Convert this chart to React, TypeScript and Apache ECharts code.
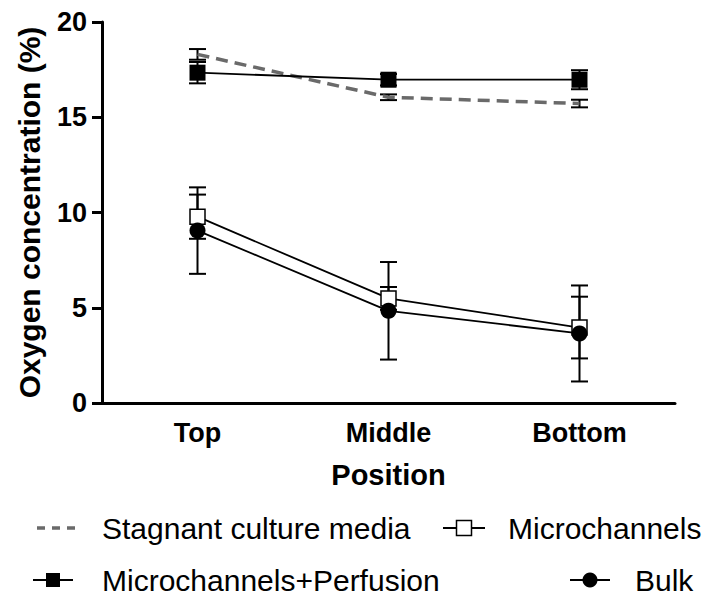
import React, { useEffect, useRef } from "react";
import * as echarts from "echarts";

const categories = ["Top", "Middle", "Bottom"];
const stagnantMean = [18.3, 16.05, 15.72];
const stagnantErr = [0.28, 0.15, 0.2];
const microMean = [9.78, 5.49, 3.96];
const microErr = [1.16, 0.6, 1.62];
const perfusionMean = [17.34, 16.97, 16.97];
const perfusionErr = [0.56, 0.3, 0.5];
const bulkMean = [9.05, 4.84, 3.65];
const bulkErr = [2.27, 2.56, 2.52];

const seriesNames = [
  "Stagnant culture media",
  "Microchannels",
  "Microchannels+Perfusion",
  "Bulk",
];

const FONT = "'Liberation Sans', Arial, Helvetica, sans-serif";

function errorSeries(name: string, mean: number[], err: number[]) {
  return {
    type: "custom",
    name: name + " SEM",
    z: 1,
    silent: true,
    data: mean.map((m, i) => [i, m - err[i], m + err[i]]),
    encode: { x: 0, y: [1, 2] },
    renderItem: (params: any, api: any) => {
      const x = api.value(0);
      const lo = api.coord([x, api.value(1)]);
      const hi = api.coord([x, api.value(2)]);
      const hw = 8.5;
      const st = { stroke: "#000", lineWidth: 2 };
      return {
        type: "group",
        children: [
          { type: "line", shape: { x1: lo[0], y1: lo[1], x2: hi[0], y2: hi[1] }, style: st },
          { type: "line", shape: { x1: lo[0] - hw, y1: lo[1], x2: lo[0] + hw, y2: lo[1] }, style: st },
          { type: "line", shape: { x1: hi[0] - hw, y1: hi[1], x2: hi[0] + hw, y2: hi[1] }, style: st },
        ],
      };
    },
  };
}

function legendGraphics() {
  const t = (x: number, y: number, text: string) => ({
    type: "text",
    x,
    y,
    style: {
      text,
      fontFamily: FONT,
      fontSize: 30,
      fill: "#000",
      verticalAlign: "middle",
      align: "left",
    },
  });
  const ln = (x1: number, x2: number, y: number) => ({
    type: "line",
    shape: { x1, y1: y, x2, y2: y },
    style: { stroke: "#000", lineWidth: 2 },
  });
  const r1 = 528;
  const r2 = 580;
  return [
    {
      type: "line",
      shape: { x1: 37, y1: r1, x2: 82, y2: r1 },
      style: { stroke: "#6a6a6a", lineWidth: 3.5, lineDash: [8, 7] },
    },
    t(102, r1, seriesNames[0]),
    ln(443, 485, r1),
    {
      type: "rect",
      shape: { x: 464 - 7.5, y: r1 - 7.5, width: 15, height: 15 },
      style: { fill: "#fff", stroke: "#000", lineWidth: 1.5 },
    },
    t(508, r1, seriesNames[1]),
    ln(33, 73, r2),
    {
      type: "rect",
      shape: { x: 53 - 7, y: r2 - 7, width: 14, height: 14 },
      style: { fill: "#000" },
    },
    t(102, r2, seriesNames[2]),
    ln(570, 610, r2),
    {
      type: "circle",
      shape: { cx: 590, cy: r2, r: 7.5 },
      style: { fill: "#000" },
    },
    t(635, r2, seriesNames[3]),
  ];
}

export default function App() {
  const ref = useRef<HTMLDivElement>(null);
  useEffect(() => {
    if (!ref.current) return;
    const chart = echarts.init(ref.current, null, { renderer: "svg" });
    chart.setOption({
      animation: false,
      backgroundColor: "#fff",
      grid: { left: 102, right: 37, top: 22, bottom: 192, containLabel: false },
      xAxis: {
        type: "category",
        data: categories,
        boundaryGap: true,
        name: "Position",
        nameLocation: "middle",
        nameGap: 57,
        nameTextStyle: { fontFamily: FONT, fontSize: 29, fontWeight: "bold", color: "#000" },
        axisLine: { lineStyle: { color: "#000", width: 3 } },
        axisTick: { alignWithLabel: true, length: 10, lineStyle: { color: "#000", width: 3 } },
        axisLabel: { fontFamily: FONT, fontSize: 27, fontWeight: "bold", color: "#000", margin: 16 },
        splitLine: { show: false },
      },
      yAxis: {
        type: "value",
        min: 0,
        max: 20,
        interval: 5,
        name: "Oxygen concentration (%)",
        nameLocation: "middle",
        nameGap: 58,
        nameTextStyle: { fontFamily: FONT, fontSize: 30, fontWeight: "bold", color: "#000" },
        axisLine: { show: true, lineStyle: { color: "#000", width: 3 } },
        axisTick: { show: true, length: 10, lineStyle: { color: "#000", width: 3 } },
        axisLabel: { fontFamily: FONT, fontSize: 27, fontWeight: "bold", color: "#000", margin: 15 },
        splitLine: { show: false },
      },
      graphic: legendGraphics(),
      series: [
        errorSeries(seriesNames[0], stagnantMean, stagnantErr),
        errorSeries(seriesNames[1], microMean, microErr),
        errorSeries(seriesNames[2], perfusionMean, perfusionErr),
        errorSeries(seriesNames[3], bulkMean, bulkErr),
        {
          type: "line",
          name: seriesNames[0],
          data: stagnantMean,
          symbol: "none",
          z: 3,
          lineStyle: { color: "#6a6a6a", width: 3.5, type: [12, 7] },
        },
        {
          type: "line",
          name: seriesNames[1],
          data: microMean,
          symbol: "rect",
          symbolSize: 15,
          z: 4,
          lineStyle: { color: "#000", width: 1.8 },
          itemStyle: { color: "#fff", borderColor: "#000", borderWidth: 1.5 },
        },
        {
          type: "line",
          name: seriesNames[2],
          data: perfusionMean,
          symbol: "rect",
          symbolSize: 16,
          z: 4,
          lineStyle: { color: "#000", width: 1.8 },
          itemStyle: { color: "#000" },
        },
        {
          type: "line",
          name: seriesNames[3],
          data: bulkMean,
          symbol: "circle",
          symbolSize: 16,
          z: 5,
          lineStyle: { color: "#000", width: 1.8 },
          itemStyle: { color: "#000" },
        },
      ],
    });
    return () => chart.dispose();
  }, []);
  return (
    <div
      ref={ref}
      style={{ position: "absolute", left: 0, top: 0, width: 712, height: 595, background: "#fff" }}
    />
  );
}
